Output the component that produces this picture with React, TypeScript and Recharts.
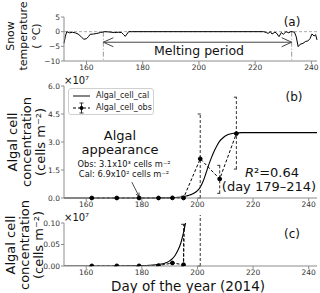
import { LineChart, Line, XAxis, YAxis, ReferenceLine, ErrorBar } from "recharts";

// day-of-year ticks shared by the three panels
const xTicks = [160, 180, 200, 220, 240];
const tempTicks = [-10, -5, 0, 5];
const cellTicksB = [0, 1.5, 3, 4.5, 6];
const cellTicksC = [0, 0.05, 0.1];

// (a) snow temperature
const tempDays = [
  152, 152.5, 153, 154, 155, 156, 157, 158, 159, 160, 160.7, 161.3, 162.5, 163.7, 165, 166.5,
  168, 170, 171.3, 172.5, 173.2, 173.8, 174.4, 175, 176, 223, 224, 224.6, 225.4, 226, 227,
  227.5, 228.5, 229.3, 230, 231, 232, 232.6, 233.2, 234, 234.6, 235.3, 236, 237, 238, 238.7,
  239.5, 240.2, 241, 241.5, 242,
];
const tempVals = [
  -4, -1.5, 0, -0.4, -0.2, -0.4, -0.8, -1.6, -2.6, -2.4, -1.7, -0.9, -0.8, -0.6, -0.3, 0,
  -0.1, -0.3, -0.2, -0.3, -1.0, -1.6, -0.8, 0, 0, 0, -0.3, -0.6, 0, -0.8, -0.2,
  -0.4, -1.7, -0.3, -0.9, 0, -0.4, 0, 0, -0.2, -1.7, -5.1, -4.3, -4.0, -3.3, -3.2,
  -2.4, -0.8, -1.5, -1.0, -2.8,
];

// (b)/(c) modelled algal cells (x10^7 cells m-2)
const calDays = [
  152, 170, 180, 185, 188, 189, 190, 191, 192, 193, 194, 195, 196, 197, 198, 199, 200, 201,
  202, 203, 204, 205, 206, 207, 208, 209, 210, 211, 212, 213, 214, 216, 243,
];
const calVals = [
  0, 0, 0.001, 0.003, 0.006, 0.008, 0.012, 0.017, 0.025, 0.037, 0.053, 0.078, 0.11, 0.15,
  0.2, 0.28, 0.4, 0.58, 0.88, 1.3, 1.75, 2.15, 2.5, 2.8, 3.05, 3.2, 3.32, 3.4, 3.44, 3.47,
  3.48, 3.5, 3.5,
];

// observed algal cells with error bar extents (down, up)
const obsDays = [162, 171, 179, 186, 191, 195, 201, 208, 214];
const obsVals = [0.0002, 0.0003, 0.0003, 0.0008, 0.007, 0.003, 2.1, 1.02, 3.45];
const obsDown = [0, 0, 0, 0, 0, 0.003, 2.1, 0.77, 1.9];
const obsUp = [0, 0, 0, 0, 0, 0.094, 2.4, 0.73, 1.95];

const tempData = tempDays.map((d, i) => ({ day: d, temp: tempVals[i] }));
const calData = calDays.map((d, i) => ({ day: d, cal: calVals[i] }));
const obsData = obsDays.map((d, i) => ({ day: d, obs: obsVals[i], err: [obsDown[i], obsUp[i]] }));

const FONT = "DejaVu Sans";
const AXIS = "#8c8c8c";
const TICK = { fontSize: 7.5, fill: "#333", fontFamily: FONT };
const minus = (v: number) => String(v).replace("-", "\u2212");

function DoubleArrow(props: any) {
  const { x1, y1, x2 } = props;
  const h = 10;
  const w = 4.5;
  return (
    <g stroke="#444" strokeWidth={1} fill="none">
      <line x1={x1} y1={y1} x2={x2} y2={y1} />
      <polyline points={`${x1 + h},${y1 - w} ${x1},${y1} ${x1 + h},${y1 + w}`} />
      <polyline points={`${x2 - h},${y1 - w} ${x2},${y1} ${x2 - h},${y1 + w}`} />
    </g>
  );
}

function PointerArrow(props: any) {
  const { x1, y1, x2, y2 } = props;
  const a = Math.atan2(y2 - y1, x2 - x1);
  const h = 4;
  const p1 = [x2 - h * Math.cos(a - 0.45), y2 - h * Math.sin(a - 0.45)];
  const p2 = [x2 - h * Math.cos(a + 0.45), y2 - h * Math.sin(a + 0.45)];
  return (
    <g stroke="#222" strokeWidth={0.8} fill="none">
      <line x1={x1} y1={y1} x2={x2} y2={y2} />
      <polyline points={`${p1[0]},${p1[1]} ${x2},${y2} ${p2[0]},${p2[1]}`} />
    </g>
  );
}

// top and right spines
function Frame() {
  return [
    <XAxis key="ft" xAxisId="top" orientation="top" type="number" domain={[152, 242]} tick={false} tickLine={false} stroke={AXIS} height={0} />,
    <YAxis key="fr" yAxisId="right" orientation="right" tick={false} tickLine={false} stroke={AXIS} width={0} />,
  ];
}

function CellSeries() {
  return [
    <Line key="cal" data={calData} dataKey="cal" type="monotone" stroke="#000" strokeWidth={1.1} dot={false} isAnimationActive={false} />,
    <Line
      key="obs"
      data={obsData}
      dataKey="obs"
      type="linear"
      stroke="#000"
      strokeWidth={1}
      strokeDasharray="3 2"
      dot={{ r: 1.9, fill: "#000", stroke: "#000", strokeDasharray: "" }}
      isAnimationActive={false}
    >
      <ErrorBar dataKey="err" direction="y" width={2.5} stroke="#333" strokeWidth={1} strokeDasharray="3 2" />
    </Line>,
  ];
}

export default function App() {
  return (
    <div style={{ position: "absolute", left: 0, top: 0, width: 320, height: 293, background: "#fff", fontFamily: FONT }}>
      <div style={{ position: "absolute", left: 0, top: 0 }}>
        <LineChart width={320} height={80} data={tempData} margin={{ top: 17, right: 3, bottom: 0, left: 0 }}>
          <XAxis dataKey="day" type="number" domain={[152, 242]} ticks={xTicks} tick={TICK} tickSize={3} tickMargin={1} stroke={AXIS} height={19} />
          <YAxis type="number" domain={[-10, 5]} ticks={tempTicks} tick={TICK} tickFormatter={minus} tickSize={3} tickMargin={1} stroke={AXIS} width={64} />
          {Frame()}
          <ReferenceLine y={0} stroke="#aaa" strokeDasharray="3 2" />
          <ReferenceLine segment={[{ x: 166, y: 0 }, { x: 166, y: -10 }]} stroke="#999" strokeDasharray="5 2 1 2" />
          <ReferenceLine segment={[{ x: 233, y: 0 }, { x: 233, y: -10 }]} stroke="#999" strokeDasharray="5 2 1 2" />
          <ReferenceLine segment={[{ x: 166, y: -3.6 }, { x: 233, y: -3.6 }]} shape={DoubleArrow} />
          <Line dataKey="temp" type="linear" stroke="#000" strokeWidth={1} dot={false} isAnimationActive={false} />
        </LineChart>
      </div>

      <div style={{ position: "absolute", left: 0, top: 60 }}>
        <LineChart width={320} height={158} margin={{ top: 26, right: 3, bottom: 0, left: 0 }}>
          <XAxis dataKey="day" type="number" domain={[152, 242]} ticks={xTicks} tick={TICK} tickSize={3} tickMargin={1} stroke={AXIS} height={20} allowDuplicatedCategory={false} />
          <YAxis type="number" domain={[0, 6]} ticks={cellTicksB} tick={TICK} tickFormatter={(v: number) => v.toFixed(1)} tickSize={3} tickMargin={1} stroke={AXIS} width={64} />
          {Frame()}
          <ReferenceLine segment={[{ x: 176.4, y: 0.85 }, { x: 179, y: 0.08 }]} shape={PointerArrow} />
          {CellSeries()}
        </LineChart>
      </div>

      <div style={{ position: "absolute", left: 0, top: 215 }}>
        <LineChart width={320} height={75} margin={{ top: 8, right: 3, bottom: 0, left: 0 }}>
          <XAxis dataKey="day" type="number" domain={[152, 242]} ticks={xTicks} tick={TICK} tickSize={3} tickMargin={1} stroke={AXIS} height={24} allowDuplicatedCategory={false} />
          <YAxis type="number" domain={[0, 0.1]} allowDataOverflow ticks={cellTicksC} tick={TICK} tickFormatter={(v: number) => v.toFixed(2)} tickSize={3} tickMargin={1} stroke={AXIS} width={64} />
          {Frame()}
          {CellSeries()}
        </LineChart>
      </div>

      {/* legend of panel (b) */}
      <div
        style={{
          position: "absolute",
          left: 68,
          top: 88,
          width: 86,
          height: 27,
          border: "1px solid #d0d0d0",
          borderRadius: 3,
          background: "rgba(255,255,255,0.85)",
          fontSize: 8,
          color: "#222",
          lineHeight: "12px",
          padding: "1px 0 0 3px",
          boxSizing: "border-box",
        }}
      >
        <div style={{ display: "flex", alignItems: "center" }}>
          <svg width={20} height={12}>
            <line x1={1} y1={6} x2={18} y2={6} stroke="#333" strokeWidth={1.2} />
          </svg>
          <span style={{ marginLeft: 4 }}>Algal_cell_cal</span>
        </div>
        <div style={{ display: "flex", alignItems: "center" }}>
          <svg width={20} height={12}>
            <line x1={1} y1={6} x2={18} y2={6} stroke="#000" strokeWidth={1} strokeDasharray="3 2" />
            <line x1={9.5} y1={1} x2={9.5} y2={11} stroke="#333" strokeWidth={1} />
            <line x1={7.5} y1={1} x2={11.5} y2={1} stroke="#333" />
            <line x1={7.5} y1={11} x2={11.5} y2={11} stroke="#333" />
            <circle cx={9.5} cy={6} r={1.9} fill="#000" />
          </svg>
          <span style={{ marginLeft: 4 }}>Algal_cell_obs</span>
        </div>
      </div>

      {/* titles and annotations */}
      <svg width={320} height={293} style={{ position: "absolute", left: 0, top: 0, pointerEvents: "none" }} fontFamily={FONT} fill="#111">
        <g fontSize={11} textAnchor="middle">
          <text transform="translate(10,36) rotate(-90)" dominantBaseline="central">Snow</text>
          <text transform="translate(23,36) rotate(-90)" dominantBaseline="central">temperature</text>
          <text transform="translate(36,36) rotate(-90)" dominantBaseline="central">( °C)</text>
        </g>
        <g fontSize={13} textAnchor="middle">
          <text transform="translate(12,142) rotate(-90)" dominantBaseline="central">Algal cell</text>
          <text transform="translate(26,142) rotate(-90)" dominantBaseline="central">concentration</text>
          <text transform="translate(40,142) rotate(-90)" dominantBaseline="central">(cells m⁻²)</text>
          <text transform="translate(10,245) rotate(-90)" dominantBaseline="central">Algal cell</text>
          <text transform="translate(24,245) rotate(-90)" dominantBaseline="central">concentration</text>
          <text transform="translate(38,245) rotate(-90)" dominantBaseline="central">(cells m⁻²)</text>
        </g>
        <text x={292} y={26} fontSize={12} textAnchor="middle">(a)</text>
        <text x={294} y={101} fontSize={12} textAnchor="middle">(b)</text>
        <text x={292} y={238} fontSize={12} textAnchor="middle">(c)</text>
        <text x={199} y={55} fontSize={12.5} textAnchor="middle">Melting period</text>
        <text x={64} y={84} fontSize={10}>×10⁷</text>
        <text x={64} y={221} fontSize={10}>×10⁷</text>
        <text x={120} y={140} fontSize={13} textAnchor="middle">Algal</text>
        <text x={120} y={154} fontSize={13} textAnchor="middle">appearance</text>
        <text x={124} y={167} fontSize={8.3} textAnchor="middle">Obs: 3.1x10³ cells m⁻²</text>
        <text x={124} y={177} fontSize={8.3} textAnchor="middle">Cal: 6.9x10² cells m⁻²</text>
        <text x={272} y={177} fontSize={13} textAnchor="middle">
          <tspan fontStyle="italic">R</tspan>²=0.64
        </text>
        <text x={269} y={191} fontSize={13} textAnchor="middle">(day 179–214)</text>
        <text x={188} y={291} fontSize={13.5} textAnchor="middle">Day of the year (2014)</text>
      </svg>
    </div>
  );
}
